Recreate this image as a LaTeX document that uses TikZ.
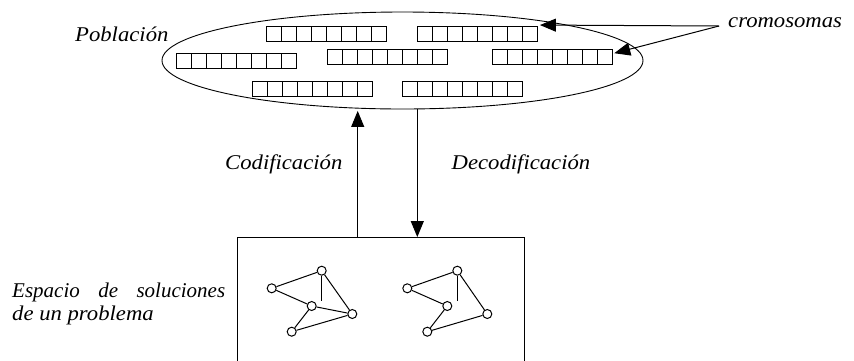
\documentclass[tikz,border=0pt]{standalone}
\usepackage{fontspec}
\setmainfont{Liberation Serif}
\usetikzlibrary{shapes.geometric,arrows.meta}
\newcommand{\wtxt}[1]{\scalebox{1.08}[1]{#1}}
\begin{document}
\begin{tikzpicture}[x=1pt,y=-1pt,
  lbl/.style={inner sep=0pt, anchor=base west, font=\itshape\fontsize{21}{24}\selectfont},
  chrom/.style={draw, line width=0.9pt, minimum width=120pt, minimum height=15pt, inner sep=0pt,
    path picture={\foreach \i in {1,...,7}{\draw[line width=0.9pt] ([xshift=\i*15pt]path picture bounding box.north west) -- ([xshift=\i*15pt]path picture bounding box.south west);}}},
  gn/.style={circle, draw, line width=1pt, minimum size=9pt, inner sep=0pt, fill=white},
  ge/.style={line width=1pt},
  arr/.style={line width=1pt, -{Triangle[length=16pt,width=13pt]}}
]
\useasboundingbox (0,0) rectangle (854,360);
% population ellipse
\node (pob) [draw, ellipse, line width=0.9pt, minimum width=481pt, minimum height=97pt, inner sep=0pt] at (402.5,60.5) {};
% chromosomes
\node (cA) [chrom] at (326.7,33.5) {};
\node (cB) [chrom] at (477,33.5) {};
\node (cC) [chrom] at (236.7,61.3) {};
\node (cD) [chrom] at (387,56.7) {};
\node (cE) [chrom] at (552.8,56.7) {};
\node (cF) [chrom] at (312,89.2) {};
\node (cG) [chrom] at (462.5,89.2) {};
% labels
\node (lpob) [lbl] at (75,41.5) {\wtxt{Población}};
\node (lcrom) [lbl] at (728,27) {\wtxt{cromosomas}};
\node (lcod) [lbl] at (225,169) {\wtxt{Codificación}};
\node (ldec) [lbl] at (451.5,169) {\wtxt{Decodificación}};
\node (lesp1) [lbl] at (12,297) {\makebox[213pt][s]{Espacio de soluciones}};
\node (lesp2) [lbl] at (12,320.5) {\wtxt{de un problema}};
% cromosomas arrows
\coordinate (cr) at (719,26);
\draw[arr] (cr) -- ([xshift=2.5pt,yshift=0.5pt]cB.north east);
\draw[arr] (cr) -- ([xshift=1pt,yshift=3.5pt]cE.east);
% solution space box
\node (esp) [draw, line width=0.9pt, minimum width=286.5pt, minimum height=130pt, inner sep=0pt] at (380.75,302.5) {};
% vertical arrows
\coordinate (xu) at (357.7,0);
\coordinate (xd) at (417.3,0);
\draw[arr] (esp.north -| xu) -- ([yshift=-1.5pt]pob.south -| xu);
\draw[arr] (pob.south -| xd) -- (esp.north -| xd);
% graph 1
\node (a1) [gn] at (271.7,288.3) {};
\node (a2) [gn] at (321.7,270.7) {};
\node (a3) [gn] at (311.7,306) {};
\node (a4) [gn] at (352.3,314) {};
\node (a5) [gn] at (291.7,331.7) {};
\draw[ge] (a1) -- (a2);
\draw[ge] (a1) -- (a3);
\draw[ge] (a2.south) -- (a2.south |- a3.north);
\draw[ge] (a2) -- (a4);
\draw[ge] (a3) -- (a4);
\draw[ge] (a3) -- (a5);
\draw[ge] (a5) -- (a4);
% graph 2
\node (b1) [gn] at (407.3,288.3) {};
\node (b2) [gn] at (457.3,270.7) {};
\node (b3) [gn] at (447.3,306) {};
\node (b4) [gn] at (487.3,314) {};
\node (b5) [gn] at (427.3,331.7) {};
\draw[ge] (b1) -- (b2);
\draw[ge] (b1) -- (b3);
\draw[ge] (b2.south) -- (b2.south |- b3.north);
\draw[ge] (b2) -- (b4);
\draw[ge] (b3) -- (b5);
\draw[ge] (b5) -- (b4);
\end{tikzpicture}
\end{document}
